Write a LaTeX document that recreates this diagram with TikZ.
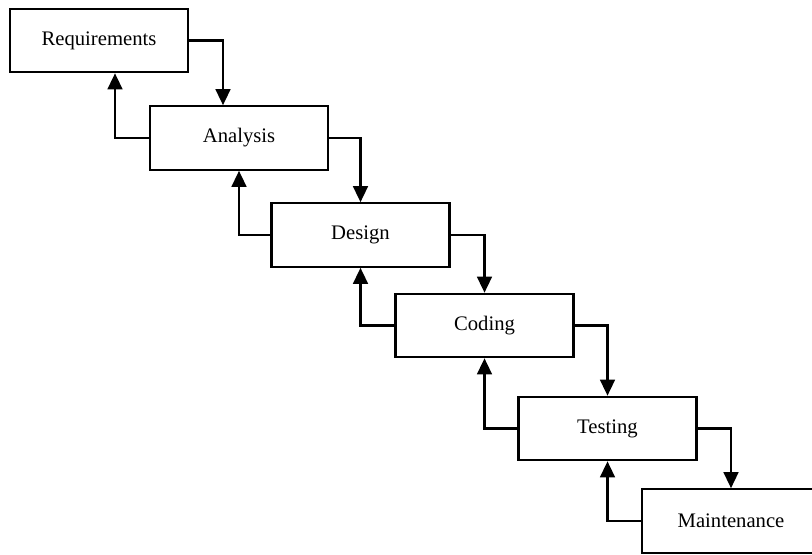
\documentclass[tikz,border=0pt]{standalone}
\usepackage{fontspec}
\setmainfont{Liberation Serif}
\usepackage{tikz}
\usetikzlibrary{arrows.meta}

\begin{document}
\begin{tikzpicture}[x=0.75pt, y=-0.75pt]
% Define styles
\tikzstyle{box}=[rectangle, minimum width=133.5pt, minimum height=47.5pt, text centered, draw=black, line width=1.7pt, font=\fontsize{15.5}{18}\selectfont]
\tikzstyle{arrow}=[-{Triangle[length=12pt,width=11pt]}, line width=1.8pt]

% Page frame
\clip (0,0) rectangle (812,554);

% Draw phases
\node[box] (req) at (99,40.5) {Requirements};
\node[box] (ana) at (239,138) {Analysis};
\node[box] (des) at (360.5,235) {Design};
\node[box] (cod) at (484.5,325.5) {Coding};
\node[box] (tes) at (607.5,428.5) {Testing};
\node[box] (mai) at (731,521) {Maintenance};

% Forward arrows
\draw[arrow] (req.east) -| ([xshift=-12pt]ana.north);
\draw[arrow] (ana.east) -| (des.north);
\draw[arrow] (des.east) -| (cod.north);
\draw[arrow] (cod.east) -| (tes.north);
\draw[arrow] (tes.east) -| (mai.north);

% Back arrows
\draw[arrow] (ana.west) -| ([xshift=12pt]req.south);
\draw[arrow] (des.west) -| (ana.south);
\draw[arrow] (cod.west) -| (des.south);
\draw[arrow] (tes.west) -| (cod.south);
\draw[arrow] (mai.west) -| (tes.south);
\end{tikzpicture}
\end{document}
